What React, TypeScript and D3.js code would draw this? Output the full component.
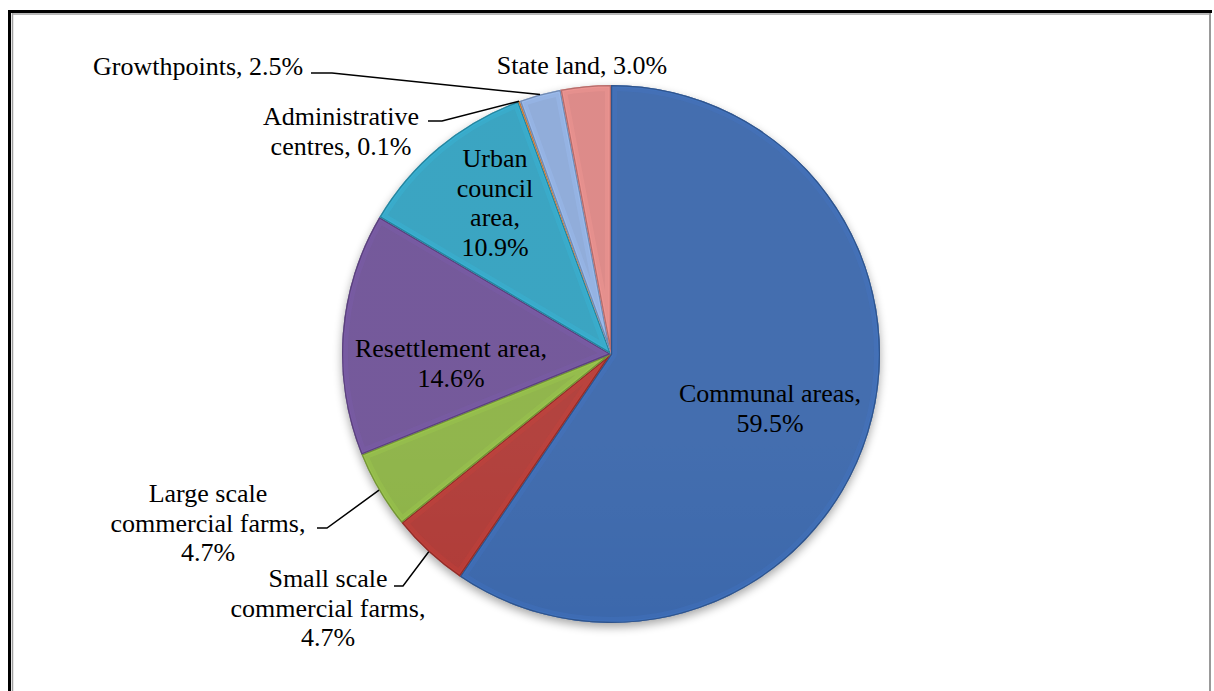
import React from "react";
import * as d3 from "d3";

const categories = [
  "Communal areas",
  "Small scale commercial farms",
  "Large scale commercial farms",
  "Resettlement area",
  "Urban council area",
  "Administrative centres",
  "Growthpoints",
  "State land",
];
const values = [59.5, 4.7, 4.7, 14.6, 10.9, 0.1, 2.5, 3.0];
const sliceColors = ["#3865AA", "#AE3733", "#8AB142", "#6C4F95", "#2F9FBE", "#F79646", "#8AA8D8", "#DB8482"];
const labelLines = [
  ["Communal areas,", "59.5%"],
  ["Small scale", "commercial farms,", "4.7%"],
  ["Large scale", "commercial farms,", "4.7%"],
  ["Resettlement area,", "14.6%"],
  ["Urban", "council", "area,", "10.9%"],
  ["Administrative", "centres, 0.1%"],
  ["Growthpoints, 2.5%"],
  ["State land, 3.0%"],
];

// layout (not data)
const W = 1214;
const H = 691;
const CX = 611;
const CY = 354;
const R = 269;
const FONT = 26;
const LH = 29.5;
const labelPos: { x: number; y: number; anchor: string; elbow?: [number, number, number] }[] = [
  { x: 770, y: 402, anchor: "middle" },
  { x: 328, y: 587, anchor: "middle", elbow: [394, 403, 586] },
  { x: 208, y: 502, anchor: "middle", elbow: [317, 327, 528] },
  { x: 451, y: 357, anchor: "middle" },
  { x: 495, y: 167, anchor: "middle" },
  { x: 341, y: 125, anchor: "middle", elbow: [428, 442, 121] },
  { x: 93, y: 75, anchor: "start", elbow: [311, 332, 73] },
  { x: 582, y: 74, anchor: "middle" },
];

export default function App() {
  const pie = d3.pie<number>().sort(null).value((d) => d).startAngle(0).endAngle(2 * Math.PI);
  const arcs = pie(values);
  const arc = d3.arc<d3.PieArcDatum<number>>().innerRadius(0).outerRadius(R);

  return (
    <svg width={W} height={H} style={{ position: "absolute", left: 0, top: 0, background: "#fff" }}>
      <defs>
        <filter id="shadow" x="-20%" y="-20%" width="140%" height="140%">
          <feGaussianBlur stdDeviation="5" />
        </filter>
        <linearGradient id="light" gradientUnits="userSpaceOnUse" x1={0} y1={CY - R} x2={0} y2={CY + R}>
          <stop offset="0" stopColor="#fff" stopOpacity={0.06} />
          <stop offset="0.5" stopColor="#fff" stopOpacity={0} />
          <stop offset="1" stopColor="#000" stopOpacity={0.1} />
        </linearGradient>
        {arcs.map((a, i) => (
          <clipPath id={`clip${i}`} key={i}>
            <path d={arc(a) || ""} transform={`translate(${CX},${CY})`} />
          </clipPath>
        ))}
      </defs>

      {/* frame */}
      <line x1={12} x2={1210} y1={14} y2={14} stroke="#a0a0a0" strokeWidth={1.5} />
      <line x1={12.5} x2={12.5} y1={13} y2={H} stroke="#a0a0a0" strokeWidth={1.5} />
      <line x1={1210} x2={1210} y1={13} y2={H} stroke="#999" strokeWidth={2} />
      <line x1={8} x2={1212} y1={11.5} y2={11.5} stroke="#000" strokeWidth={3} />
      <line x1={9.5} x2={9.5} y1={10} y2={H} stroke="#000" strokeWidth={3} />

      {/* shadow */}
      <circle cx={CX} cy={CY + 4} r={R} fill="#000" opacity={0.35} filter="url(#shadow)" />

      <g>
        {arcs.map((a, i) => {
          const d = arc(a) || "";
          const c = d3.color(sliceColors[i])!;
          const bright = c.brighter(0.5).formatHex();
          const dark = c.darker(0.8).formatHex();
          return (
            <g key={i}>
              <path d={d} transform={`translate(${CX},${CY})`} fill={sliceColors[i]} />
              <g clipPath={`url(#clip${i})`}>
                <path d={d} transform={`translate(${CX},${CY})`} fill="url(#light)" />
                <path d={d} transform={`translate(${CX},${CY})`} fill="none" stroke={bright} strokeOpacity={0.25} strokeWidth={12} strokeLinejoin="round" />
                <path d={d} transform={`translate(${CX},${CY})`} fill="none" stroke={bright} strokeOpacity={0.3} strokeWidth={5} strokeLinejoin="round" />
                <path d={d} transform={`translate(${CX},${CY})`} fill="none" stroke={dark} strokeOpacity={0.8} strokeWidth={2.5} strokeLinejoin="round" />
              </g>
            </g>
          );
        })}
      </g>

      {/* leader lines */}
      {arcs.map((a, i) => {
        const p = labelPos[i];
        if (!p.elbow) return null;
        const mid = (a.startAngle + a.endAngle) / 2;
        const ex = CX + R * Math.sin(mid);
        const ey = CY - R * Math.cos(mid);
        const [x1, x2, y] = p.elbow;
        return (
          <polyline
            key={`l${i}`}
            points={`${x1},${y} ${x2},${y} ${ex},${ey}`}
            fill="none"
            stroke="#000"
            strokeWidth={1.5}
          />
        );
      })}

      {/* labels */}
      {labelLines.map((lines, i) => (
        <text
          key={`t${i}`}
          fill="#000"
          textAnchor={labelPos[i].anchor}
          fontFamily="Liberation Serif"
          fontSize={FONT}
          style={{ fontFamily: "Liberation Serif", fontSize: FONT }}
        >
          {lines.map((ln, j) => (
            <tspan key={j} x={labelPos[i].x} y={labelPos[i].y + j * LH}>
              {ln}
            </tspan>
          ))}
        </text>
      ))}
    </svg>
  );
}
